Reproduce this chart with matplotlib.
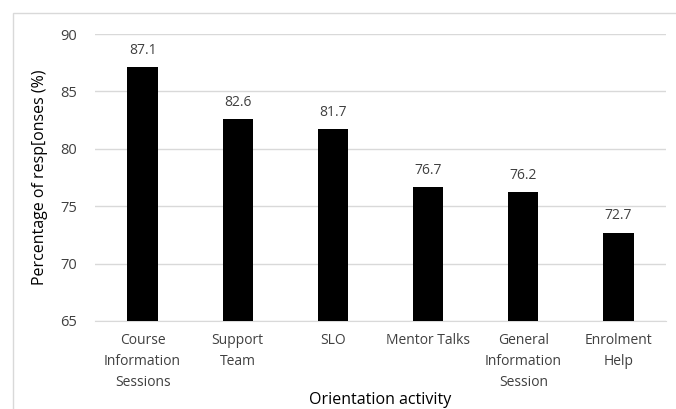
import matplotlib.pyplot as plt
from matplotlib.patches import Rectangle

plt.rcParams['font.family'] = ['Open Sans', 'DejaVu Sans']

categories = ['Course\nInformation\nSessions', 'Support\nTeam', 'SLO', 'Mentor Talks',
              'General\nInformation\nSession', 'Enrolment\nHelp']
values = [87.1, 82.6, 81.7, 76.7, 76.2, 72.7]

fig = plt.figure(figsize=(6.76, 4.09), dpi=100)
ax = fig.add_axes([95 / 676, 1 - 321 / 409, 571 / 676, 287 / 409])

x = range(len(categories))
ax.bar(x, values, width=0.32, color='black', zorder=3)
ax.set_ylim(65, 90)
ax.set_xlim(-0.5, len(categories) - 0.5)
ax.set_yticks([65, 70, 75, 80, 85, 90])

for xi, v in zip(x, values):
    ax.text(xi, v + 0.8, f'{v:.1f}', ha='center', va='bottom', fontsize=10, color='#404040')

ax.set_xticks(list(x))
ax.set_xticklabels(categories, fontsize=10, color='#404040', linespacing=1.5, va='top')
ax.tick_params(axis='both', length=0, labelsize=10.5, labelcolor='#404040')
ax.tick_params(axis='x', pad=9, labelsize=10)
ax.tick_params(axis='y', pad=13)
ax.grid(axis='y', color='#d9d9d9', linewidth=1, zorder=0)
for s in ['top', 'right', 'left']:
    ax.spines[s].set_visible(False)
ax.spines['bottom'].set_color('#d9d9d9')

ax.set_ylabel('Percentage of resp[onses (%)', fontsize=11.5, color='black', labelpad=9)
ax.set_xlabel('Orientation activity', fontsize=11.5, color='black', labelpad=2)

# outer chart frame
fig.add_artist(Rectangle((13 / 676, -0.1), 1.0, (409 - 13) / 409 + 0.1,
                         transform=fig.transFigure, fill=False,
                         edgecolor='#d9d9d9', linewidth=1))

fig.savefig('out.png', dpi=100)
